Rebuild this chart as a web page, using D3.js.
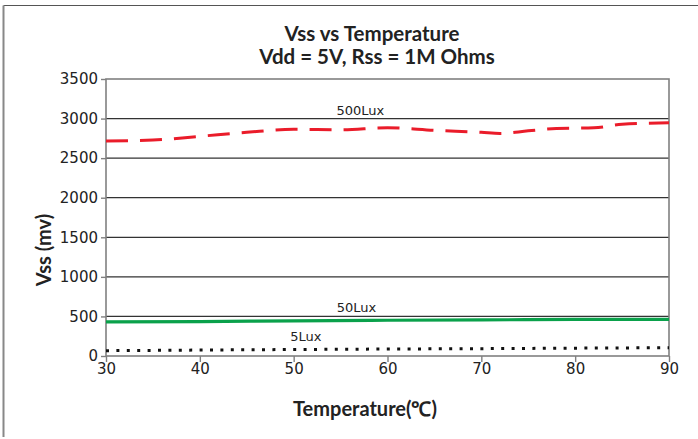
<!DOCTYPE html>
<html>
<head>
<meta charset="utf-8">
<script src="https://cdn.jsdelivr.net/npm/d3@7"></script>
<style>
  body { margin: 0; background: #fff; }
  svg { display: block; }
</style>
</head>
<body>
<div id="plot"></div>
<script>
// Vss (mv), per temperature (°C)
const temps500 = [30, 35, 40, 45, 50, 55, 60, 65, 70, 72, 75, 78, 82, 85, 90];
const lux500 = [2716, 2728, 2776, 2826, 2864, 2858, 2885, 2852, 2826, 2812, 2845, 2875, 2883, 2928, 2946];
const temps50 = [30, 40, 50, 60, 70, 80, 85, 90];
const lux50 = [430, 435, 445, 452, 456, 462, 464, 462];
const temps5 = [30, 40, 50, 60, 70, 80, 90];
const lux5 = [67, 75, 82, 88, 93, 99, 105];
const xTicks = [30, 40, 50, 60, 70, 80, 90];
const yTicks = [0, 500, 1000, 1500, 2000, 2500, 3000, 3500];

const width = 698, height = 439;
const margin = {left: 106, right: 29, top: 79, bottom: 83};

const svg = d3.select("#plot").append("svg")
    .attr("width", width)
    .attr("height", height);

// outer frame (only top and left edges visible)
svg.append("line").attr("x1", 3.5).attr("x2", width).attr("y1", 5.5).attr("y2", 5.5)
    .attr("stroke", "#555").attr("stroke-width", 1.2);
svg.append("line").attr("x1", 3.5).attr("x2", 3.5).attr("y1", 5.5).attr("y2", 437)
    .attr("stroke", "#888").attr("stroke-width", 2);

const x = d3.scaleLinear().domain([30, 90]).range([margin.left, width - margin.right]);
const y = d3.scaleLinear().domain([0, 3500]).range([height - margin.bottom, margin.top]);

// gridlines
svg.append("g")
    .selectAll("line")
    .data(yTicks.filter(d => d > 0 && d < 3500))
    .enter().append("line")
    .attr("x1", x(30)).attr("x2", x(90))
    .attr("y1", d => y(d)).attr("y2", d => y(d))
    .attr("stroke", "#333")
    .attr("stroke-width", 1.3);

// plot border
svg.append("rect")
    .attr("x", x(30)).attr("y", y(3500))
    .attr("width", x(90) - x(30)).attr("height", y(0) - y(3500))
    .attr("fill", "none")
    .attr("stroke", "#808080")
    .attr("stroke-width", 1.6);

const tickFont = "'DejaVu Sans', sans-serif";

const yAxis = svg.append("g")
    .attr("transform", `translate(${x(30)},0)`)
    .call(d3.axisLeft(y).tickValues(yTicks).tickFormat(d3.format("d")).tickSize(5).tickPadding(3));
const xAxis = svg.append("g")
    .attr("transform", `translate(0,${y(0)})`)
    .call(d3.axisBottom(x).tickValues(xTicks).tickFormat(d3.format("d")).tickSize(6).tickPadding(1));

[yAxis, xAxis].forEach(a => {
    a.select(".domain").remove();
    a.selectAll("line").attr("stroke", "#808080").attr("stroke-width", 1.4);
    a.selectAll("text")
        .style("font-family", tickFont)
        .style("font-size", "15px")
        .attr("fill", "#222");
});

// series
const line = d3.line().x(d => x(d[0])).y(d => y(d[1])).curve(d3.curveMonotoneX);

svg.append("path")
    .datum(d3.zip(temps50, lux50))
    .attr("d", line)
    .attr("fill", "none")
    .attr("stroke", "#0aa14b")
    .attr("stroke-width", 3.2);

svg.append("path")
    .datum(d3.zip(temps500, lux500))
    .attr("d", line)
    .attr("fill", "none")
    .attr("stroke", "#ea1c2a")
    .attr("stroke-width", 3)
    .attr("stroke-dasharray", "22,12");

svg.append("path")
    .datum(d3.zip(temps5, lux5))
    .attr("d", line)
    .attr("fill", "none")
    .attr("stroke", "#111")
    .attr("stroke-width", 3)
    .attr("stroke-dasharray", "3,7.4");

// series labels
const seriesLabels = [
    {text: "500Lux", t: 57.1, v: 3040},
    {text: "50Lux", t: 56.7, v: 560},
    {text: "5Lux", t: 51.3, v: 185}
];
svg.append("g")
    .selectAll("text")
    .data(seriesLabels)
    .enter().append("text")
    .attr("x", d => x(d.t))
    .attr("y", d => y(d.v))
    .attr("text-anchor", "middle")
    .style("font-family", tickFont)
    .style("font-size", "13px")
    .attr("fill", "#222")
    .text(d => d.text);

// titles
const titleFont = "Lato, 'Open Sans', sans-serif";
svg.append("text")
    .attr("x", 372).attr("y", 41)
    .attr("text-anchor", "middle")
    .style("font-family", titleFont)
    .style("font-size", "20.5px")
    .style("font-weight", "bold")
    .attr("fill", "#222")
    .text("Vss vs Temperature");
svg.append("text")
    .attr("x", 377).attr("y", 64)
    .attr("text-anchor", "middle")
    .style("font-family", titleFont)
    .style("font-size", "20.5px")
    .style("font-weight", "bold")
    .attr("fill", "#222")
    .text("Vdd = 5V, Rss = 1M Ohms");

svg.append("text")
    .attr("x", 365).attr("y", 416)
    .attr("text-anchor", "middle")
    .style("font-family", titleFont)
    .style("font-size", "20px")
    .style("font-weight", "bold")
    .attr("fill", "#222")
    .text("Temperature(℃)");

svg.append("text")
    .attr("transform", "translate(51,250) rotate(-90)")
    .attr("text-anchor", "middle")
    .style("font-family", titleFont)
    .style("font-size", "20px")
    .style("font-weight", "bold")
    .attr("fill", "#222")
    .text("Vss (mv)");
</script>
</body>
</html>
